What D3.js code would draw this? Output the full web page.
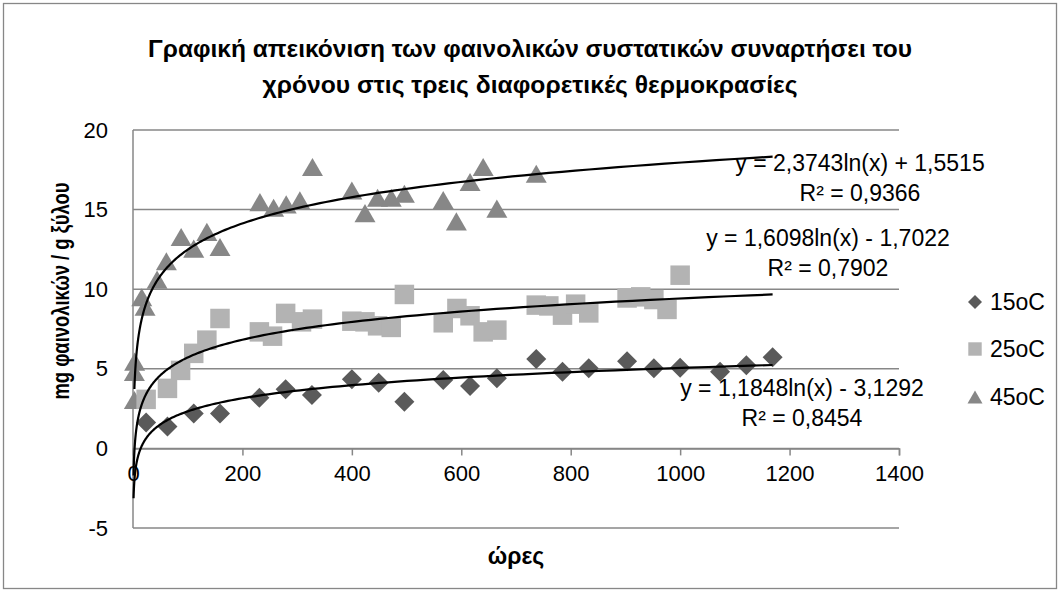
<!DOCTYPE html>
<html>
<head>
<meta charset="utf-8">
<script src="https://cdn.jsdelivr.net/npm/d3@7"></script>
<style>
body { margin: 0; background: #fff; }
text { font-family: "Liberation Sans", Arial, sans-serif; fill: #000; }
</style>
</head>
<body>
<script>
var w = 1060;
var h = 592;

// data (hours, mg)
var hours15 = [24, 63, 111, 159, 231, 279, 327, 400, 449, 496, 567, 616, 665, 737, 785, 833, 903, 952, 1000, 1073, 1121, 1169];
var values15 = [1.62, 1.37, 2.2, 2.2, 3.18, 3.71, 3.35, 4.34, 4.13, 2.93, 4.3, 3.92, 4.4, 5.61, 4.82, 5.03, 5.47, 5.03, 5.07, 4.82, 5.23, 5.72];

var hours25 = [24, 63, 87, 111, 135, 159, 231, 255, 279, 308, 328, 400, 424, 447, 472, 496, 567, 592, 616, 640, 665, 737, 760, 785, 809, 833, 903, 928, 952, 976, 1000];
var values25 = [3.08, 3.77, 4.9, 5.97, 6.8, 8.16, 7.32, 7.05, 8.48, 7.95, 8.12, 7.99, 7.95, 7.7, 7.6, 9.67, 7.89, 8.79, 8.33, 7.32, 7.43, 9.0, 8.95, 8.37, 9.06, 8.51, 9.45, 9.52, 9.35, 8.73, 10.88];

var hours45 = [2.5, 2.5, 3, 16, 22, 44, 61, 88, 111, 135, 159, 232, 257, 280, 305, 328, 400, 424, 447, 472, 496, 567, 591, 616, 640, 665, 737];
var values45 = [3.04, 4.8, 5.45, 9.5, 8.9, 10.6, 11.75, 13.28, 12.55, 13.6, 12.65, 15.47, 15.12, 15.33, 15.58, 17.67, 16.2, 14.78, 15.75, 15.75, 16.0, 15.6, 14.26, 16.73, 17.67, 15.06, 17.25];

var seriesNames = ["15oC", "25oC", "45oC"];
var trendA = [1.1848, 1.6098, 2.3743];
var trendB = [-3.1292, -1.7022, 1.5515];
var trendStart = [1, 1, 2.5];
var trendEnd = 1169;
var eqLabels = ["y = 1,1848ln(x) - 3,1292", "y = 1,6098ln(x) - 1,7022", "y = 2,3743ln(x) + 1,5515"];
var r2Labels = ["R² = 0,8454", "R² = 0,7902", "R² = 0,9366"];

var xTicks = [0, 200, 400, 600, 800, 1000, 1200, 1400];
var yTicks = [-5, 0, 5, 10, 15, 20];

var titleLines = ["Γραφική απεικόνιση των φαινολικών συστατικών συναρτήσει του",
    "χρόνου στις τρεις διαφορετικές θερμοκρασίες"];
var xTitle = "ώρες";
var yTitle = "mg φαινολικών / g ξύλου";

var colors = ["#5a5a5a", "#b3b3b3", "#878787"];
var grid = "#878787";

var xScale = d3.scaleLinear().domain([0, 1400]).range([133, 899]);
var yScale = d3.scaleLinear().domain([-5, 20]).range([528, 130]);

var svg = d3.select("body")
    .append("svg")
    .attr("width", w)
    .attr("height", h);

svg.append("rect")
    .attr("x", 3.5).attr("y", 3.5)
    .attr("width", w - 7).attr("height", h - 7)
    .attr("fill", "#fff")
    .attr("stroke", grid)
    .attr("stroke-width", 1.3);

// title
svg.selectAll(".title")
    .data(titleLines)
    .enter()
    .append("text")
    .attr("class", "title")
    .attr("x", 530)
    .attr("y", function (d, i) { return 57 + i * 36; })
    .attr("text-anchor", "middle")
    .attr("textLength", function (d, i) { return i == 0 ? 764 : 535; })
    .attr("lengthAdjust", "spacingAndGlyphs")
    .style("font-size", "24px")
    .style("font-weight", "bold")
    .text(function (d) { return d; });

// gridlines
svg.selectAll(".grid")
    .data(yTicks)
    .enter()
    .append("line")
    .attr("x1", xScale(0))
    .attr("x2", xScale(1400))
    .attr("y1", function (d) { return yScale(d); })
    .attr("y2", function (d) { return yScale(d); })
    .attr("stroke", grid)
    .attr("stroke-width", 1.5);

// vertical axis line
svg.append("line")
    .attr("x1", xScale(0)).attr("x2", xScale(0))
    .attr("y1", yScale(20)).attr("y2", yScale(-5))
    .attr("stroke", grid)
    .attr("stroke-width", 1.5);

var fmt = function (d) { return String(d); };

// x axis at zero
var xAxis = d3.axisBottom(xScale)
    .tickValues(xTicks)
    .tickFormat(fmt)
    .tickSize(7)
    .tickPadding(10);

var gx = svg.append("g")
    .attr("transform", "translate(0," + yScale(0) + ")")
    .call(xAxis);
gx.select(".domain").attr("stroke", grid).attr("stroke-width", 1.5);
gx.selectAll(".tick line").attr("stroke", grid).attr("stroke-width", 1.5);
gx.selectAll(".tick text")
    .style("font-size", "22px")
    .style("font-family", "'Liberation Sans', Arial, sans-serif")
    .attr("fill", "#000");

var yAxis = d3.axisLeft(yScale)
    .tickValues(yTicks)
    .tickFormat(fmt)
    .tickSize(0)
    .tickPadding(25);

var gy = svg.append("g")
    .attr("transform", "translate(" + xScale(0) + ",0)")
    .call(yAxis);
gy.select(".domain").remove();
gy.selectAll(".tick text")
    .style("font-size", "22px")
    .style("font-family", "'Liberation Sans', Arial, sans-serif")
    .attr("fill", "#000");

// axis titles
svg.append("text")
    .attr("x", 516)
    .attr("y", 564)
    .attr("text-anchor", "middle")
    .style("font-size", "23px")
    .style("font-weight", "bold")
    .text(xTitle);

svg.append("text")
    .attr("transform", "translate(69,291) rotate(-90)")
    .attr("text-anchor", "middle")
    .attr("textLength", 217)
    .attr("lengthAdjust", "spacingAndGlyphs")
    .style("font-size", "23px")
    .style("font-weight", "bold")
    .text(yTitle);

// markers
var diamond = d3.symbol().type(d3.symbolSquare).size(200);
var square = d3.symbol().type(d3.symbolSquare).size(380);

function triangle(s) {
    var p = d3.path();
    p.moveTo(0, -s * 0.43);
    p.lineTo(s / 2, s * 0.43);
    p.lineTo(-s / 2, s * 0.43);
    p.closePath();
    return p.toString();
}

var pts15 = hours15.map(function (d, i) { return [d, values15[i]]; });
var pts25 = hours25.map(function (d, i) { return [d, values25[i]]; });
var pts45 = hours45.map(function (d, i) { return [d, values45[i]]; });

svg.selectAll(".p45")
    .data(pts45)
    .enter()
    .append("path")
    .attr("d", triangle(21))
    .attr("transform", function (d) {
        return "translate(" + xScale(d[0]) + "," + yScale(d[1]) + ")";
    })
    .attr("fill", colors[2]);

svg.selectAll(".p25")
    .data(pts25)
    .enter()
    .append("path")
    .attr("d", square())
    .attr("transform", function (d) {
        return "translate(" + xScale(d[0]) + "," + yScale(d[1]) + ")";
    })
    .attr("fill", colors[1]);

svg.selectAll(".p15")
    .data(pts15)
    .enter()
    .append("path")
    .attr("d", diamond())
    .attr("transform", function (d) {
        return "translate(" + xScale(d[0]) + "," + yScale(d[1]) + ") rotate(45)";
    })
    .attr("fill", colors[0]);

// logarithmic trendlines
var line = d3.line()
    .x(function (d) { return xScale(d[0]); })
    .y(function (d) { return yScale(d[1]); });

trendA.forEach(function (a, k) {
    var pts = [];
    var lo = Math.log(trendStart[k]);
    var hi = Math.log(trendEnd);
    for (var j = 0; j <= 200; j++) {
        var xv = Math.exp(lo + (hi - lo) * j / 200);
        pts.push([xv, a * Math.log(xv) + trendB[k]]);
    }
    svg.append("path")
        .attr("d", line(pts))
        .attr("fill", "none")
        .attr("stroke", "#000")
        .attr("stroke-width", 2.2);
});

// trendline labels
var labelX = [802, 828, 860];
var labelY = [396, 246, 171];

seriesNames.forEach(function (n, k) {
    svg.append("text")
        .attr("x", labelX[k])
        .attr("y", labelY[k])
        .attr("text-anchor", "middle")
        .style("font-size", "23px")
        .text(eqLabels[k]);
    svg.append("text")
        .attr("x", labelX[k])
        .attr("y", labelY[k] + 30)
        .attr("text-anchor", "middle")
        .style("font-size", "23px")
        .text(r2Labels[k]);
});

// legend
var legY = [302, 349, 397];
var legend = svg.selectAll(".leg")
    .data(seriesNames)
    .enter()
    .append("g")
    .attr("transform", function (d, i) { return "translate(975," + legY[i] + ")"; });

legend.append("path")
    .attr("d", function (d, i) {
        if (i == 0) return d3.symbol().type(d3.symbolSquare).size(98)();
        if (i == 1) return d3.symbol().type(d3.symbolSquare).size(180)();
        return triangle(15);
    })
    .attr("transform", function (d, i) { return i == 0 ? "rotate(45)" : ""; })
    .attr("fill", function (d, i) { return colors[i]; });

legend.append("text")
    .attr("x", 15)
    .attr("y", 8)
    .style("font-size", "23px")
    .text(function (d) { return d; });
</script>
</body>
</html>
